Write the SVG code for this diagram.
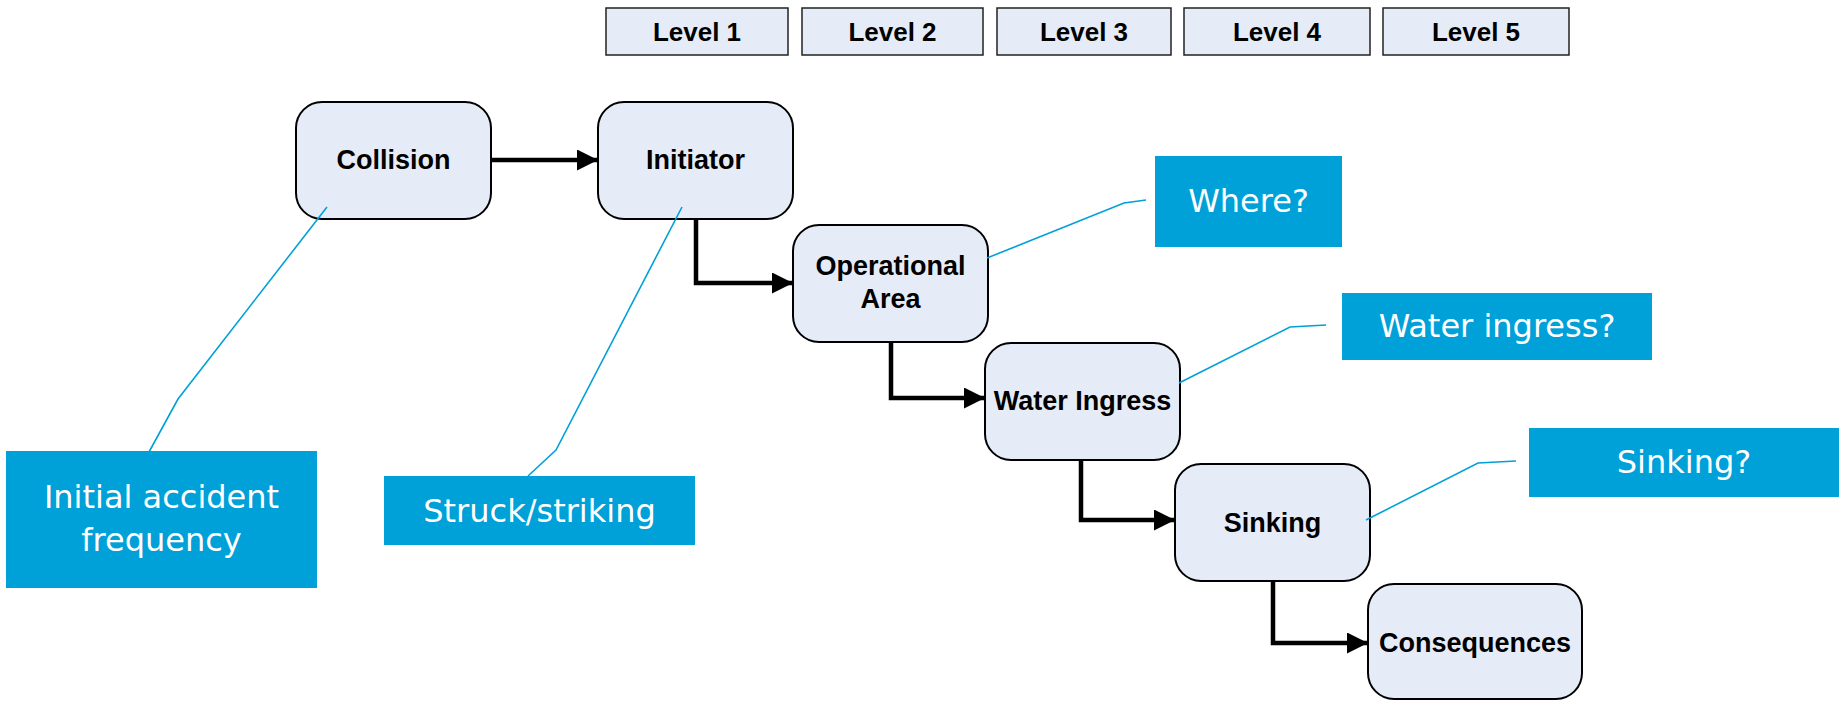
<svg xmlns="http://www.w3.org/2000/svg" width="1839" height="701" viewBox="0 0 1839 701">
<defs>
<style>
.lvl{fill:#E6ECF7;stroke:#222;stroke-width:1.5}
.lt{font-family:"Liberation Sans",Arial,sans-serif;font-weight:bold;font-size:26px;fill:#000;text-anchor:middle}
.node{fill:#E6ECF7;stroke:#000;stroke-width:2}
.nt{font-family:"Liberation Sans",Arial,sans-serif;font-weight:bold;font-size:27px;fill:#000;text-anchor:middle}
.call{fill:#00A0D9}
.ct{font-family:"DejaVu Sans",Verdana,sans-serif;font-size:32px;fill:#fff;text-anchor:middle}
.lead{fill:none;stroke:#00A0D9;stroke-width:1.6}
.conn{fill:none;stroke:#000;stroke-width:4.5;marker-end:url(#ah)}
</style>
<marker id="ah" markerUnits="userSpaceOnUse" markerWidth="22" markerHeight="22" refX="21" refY="10.5" orient="auto">
<path d="M0,0 L21,10.5 L0,21 Z" fill="#000"/>
</marker>
</defs>
<rect width="1839" height="701" fill="#fff"/>

<g id="levels">
<g id="level1"><rect class="lvl" x="606" y="8" width="182" height="47"/><text class="lt" x="697" y="41">Level 1</text></g>
<g id="level2"><rect class="lvl" x="802" y="8" width="181" height="47"/><text class="lt" x="892.5" y="41">Level 2</text></g>
<g id="level3"><rect class="lvl" x="997" y="8" width="174" height="47"/><text class="lt" x="1084" y="41">Level 3</text></g>
<g id="level4"><rect class="lvl" x="1184" y="8" width="186" height="47"/><text class="lt" x="1277" y="41">Level 4</text></g>
<g id="level5"><rect class="lvl" x="1383" y="8" width="186" height="47"/><text class="lt" x="1476" y="41">Level 5</text></g>
</g>

<g id="connectors">
<path class="conn" d="M491,160 H598"/>
<path class="conn" d="M696,219 V283 H793"/>
<path class="conn" d="M891,342 V398 H985"/>
<path class="conn" d="M1081,460 V520 H1175"/>
<path class="conn" d="M1273,581 V643 H1368"/>
</g>

<g id="collision"><rect class="node" x="296" y="102" width="195" height="117" rx="26"/><text class="nt" x="393.5" y="169">Collision</text></g>
<g id="initiator"><rect class="node" x="598" y="102" width="195" height="117" rx="26"/><text class="nt" x="695.5" y="169">Initiator</text></g>
<g id="operational-area"><rect class="node" x="793" y="225" width="195" height="117" rx="26"/><text class="nt" x="890.5" y="275">Operational</text><text class="nt" x="890.5" y="308">Area</text></g>
<g id="water-ingress"><rect class="node" x="985" y="343" width="195" height="117" rx="26"/><text class="nt" x="1082.5" y="410">Water Ingress</text></g>
<g id="sinking"><rect class="node" x="1175" y="464" width="195" height="117" rx="26"/><text class="nt" x="1272.5" y="532">Sinking</text></g>
<g id="consequences"><rect class="node" x="1368" y="584" width="214" height="115" rx="26"/><text class="nt" x="1475" y="652">Consequences</text></g>

<g id="leaders">
<polyline class="lead" points="327,207 178,399 149,452"/>
<polyline class="lead" points="682,207 556,450 528,476"/>
<polyline class="lead" points="987,258 1124,203 1146,200"/>
<polyline class="lead" points="1179,383 1290,327 1326,325"/>
<polyline class="lead" points="1366,520 1478,463 1516,461"/>
</g>

<g id="callout-initial"><rect class="call" x="6" y="451" width="311" height="137"/><text class="ct" x="161.5" y="508">Initial accident</text><text class="ct" x="161.5" y="551">frequency</text></g>
<g id="callout-struck"><rect class="call" x="384" y="476" width="311" height="69"/><text class="ct" x="539.5" y="522">Struck/striking</text></g>
<g id="callout-where"><rect class="call" x="1155" y="156" width="187" height="91"/><text class="ct" x="1248.5" y="212">Where?</text></g>
<g id="callout-water"><rect class="call" x="1342" y="293" width="310" height="67"/><text class="ct" x="1497" y="337">Water ingress?</text></g>
<g id="callout-sinking"><rect class="call" x="1529" y="428" width="310" height="69"/><text class="ct" x="1684" y="473">Sinking?</text></g>
</svg>
